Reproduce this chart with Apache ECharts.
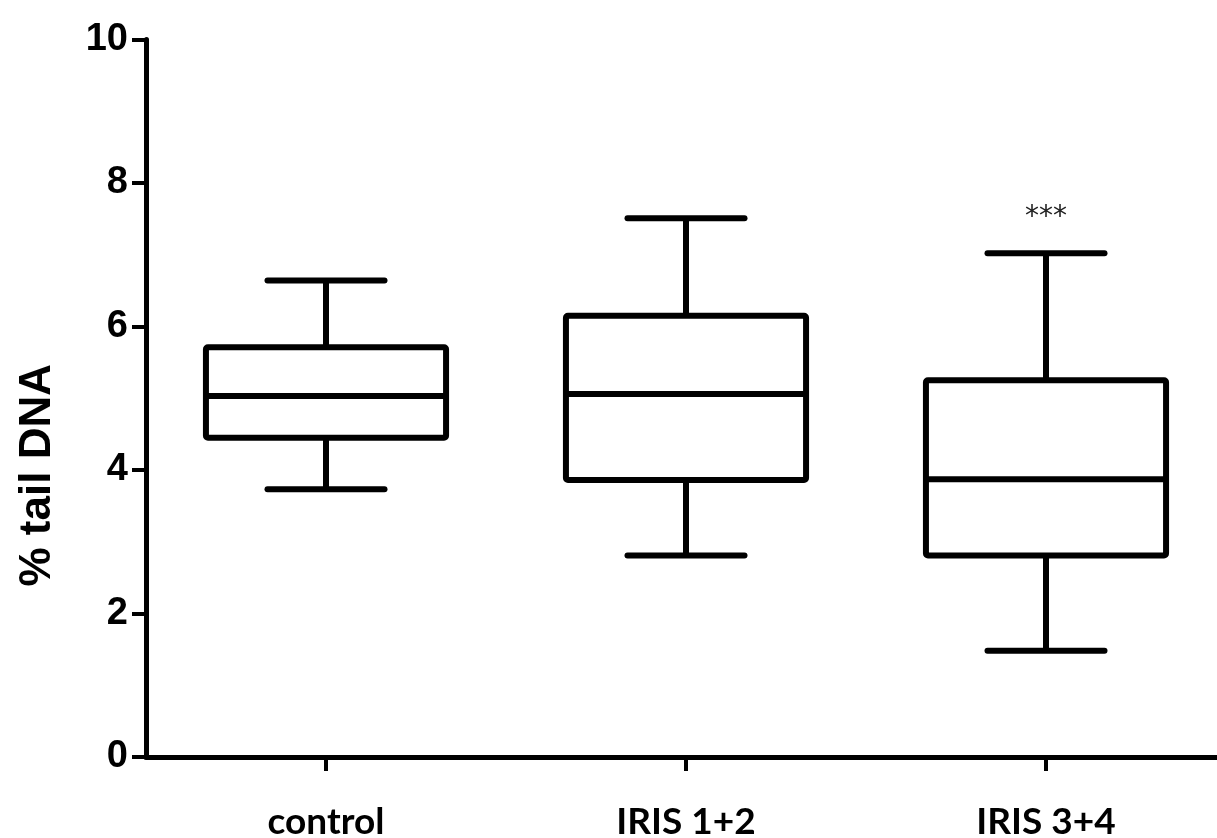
<!DOCTYPE html>
<html>
<head>
<meta charset="utf-8">
<script src="https://cdn.jsdelivr.net/npm/echarts@6/dist/echarts.min.js"></script>
<style>
html,body{margin:0;padding:0;background:#fff;}
#chart{width:1217px;height:838px;}
</style>
</head>
<body>
<div id="chart"></div>
<script>
var categories = ['control', 'IRIS 1+2', 'IRIS 3+4'];
var whiskerLow = [3.73, 2.81, 1.48];
var q1 = [4.45, 3.86, 2.81];
var median = [5.03, 5.06, 3.87];
var q3 = [5.71, 6.15, 5.25];
var whiskerHigh = [6.64, 7.51, 7.02];
var annotations = ['', '', '***'];
var yTicks = [0, 2, 4, 6, 8, 10];
var yAxisTitle = '% tail DNA';

var boxData = categories.map(function (c, i) {
  return [i, whiskerLow[i], q1[i], median[i], q3[i], whiskerHigh[i]];
});

var chart = echarts.init(document.getElementById('chart'));
var LW = 6;
chart.setOption({
  backgroundColor: '#ffffff',
  animation: false,
  grid: { left: 146, right: -9, top: 39.5, bottom: 81, containLabel: false, outerBoundsMode: 'none' },
  xAxis: {
    type: 'category',
    data: categories,
    boundaryGap: true,
    axisLine: { lineStyle: { color: '#000', width: 5 } },
    axisTick: { show: true, alignWithLabel: true, length: 14, lineStyle: { color: '#000', width: 4 } },
    axisLabel: { color: '#000', fontFamily: 'Lato', fontWeight: 'bold', fontSize: 37, margin: 47 },
    splitLine: { show: false }
  },
  yAxis: {
    type: 'value',
    min: yTicks[0],
    max: yTicks[yTicks.length - 1],
    interval: 2,
    name: yAxisTitle,
    nameLocation: 'middle',
    nameGap: 86,
    nameTextStyle: { color: '#000', fontFamily: 'Liberation Sans', fontWeight: 'bold', fontSize: 44, padding: [0, 154, 0, 0] },
    axisLine: { show: true, lineStyle: { color: '#000', width: 5 } },
    axisTick: { show: true, length: 14, lineStyle: { color: '#000', width: 4 } },
    axisLabel: { color: '#000', fontFamily: 'Liberation Sans', fontWeight: 'bold', fontSize: 38, margin: 18 },
    splitLine: { show: false }
  },
  series: [{
    type: 'custom',
    data: boxData,
    encode: { x: 0, y: [1, 2, 3, 4, 5] },
    renderItem: function (params, api) {
      var idx = api.value(0);
      var band = api.size([1, 0])[0];
      var boxW = band * 0.667;
      var capW = band * 0.325;
      var pLow = api.coord([idx, api.value(1)]);
      var pQ1 = api.coord([idx, api.value(2)]);
      var pMed = api.coord([idx, api.value(3)]);
      var pQ3 = api.coord([idx, api.value(4)]);
      var pHigh = api.coord([idx, api.value(5)]);
      var cx = pMed[0];
      var st = { stroke: '#000', lineWidth: LW, fill: null, lineJoin: 'round', lineCap: 'butt' };
      var children = [
        { type: 'line', shape: { x1: cx, y1: pQ3[1], x2: cx, y2: pHigh[1] }, style: st },
        { type: 'line', shape: { x1: cx, y1: pQ1[1], x2: cx, y2: pLow[1] }, style: st },
        { type: 'line', shape: { x1: cx - capW / 2, y1: pHigh[1], x2: cx + capW / 2, y2: pHigh[1] }, style: Object.assign({}, st, { lineCap: 'round' }) },
        { type: 'line', shape: { x1: cx - capW / 2, y1: pLow[1], x2: cx + capW / 2, y2: pLow[1] }, style: Object.assign({}, st, { lineCap: 'round' }) },
        { type: 'rect', shape: { x: cx - boxW / 2, y: pQ3[1], width: boxW, height: pQ1[1] - pQ3[1], r: 2 }, style: { stroke: '#000', lineWidth: LW, fill: '#fff', lineJoin: 'round' } },
        { type: 'line', shape: { x1: cx - boxW / 2, y1: pMed[1], x2: cx + boxW / 2, y2: pMed[1] }, style: st }
      ];
      var ann = annotations[params.dataIndex];
      if (ann) {
        children.push({
          type: 'text',
          style: { text: ann, x: cx, y: pHigh[1] - 36, align: 'center', verticalAlign: 'middle', fill: '#222', font: '28px "DejaVu Sans"' }
        });
      }
      return { type: 'group', children: children };
    }
  }]
});
</script>
</body>
</html>
